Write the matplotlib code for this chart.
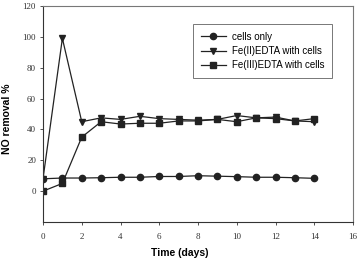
import matplotlib
matplotlib.use("Agg")
import matplotlib.pyplot as plt

days = [0, 1, 2, 3, 4, 5, 6, 7, 8, 9, 10, 11, 12, 13, 14]
cells_only = [8, 8.5, 8.5, 8.7, 9, 9, 9.5, 9.5, 10, 9.7, 9.4, 9, 9, 8.7, 8.3]
fe2_cells = [8, 99, 45, 47.5, 46.5, 48.5, 47, 46.5, 46, 46.5, 49, 47.5, 48, 45.5, 45]
fe3_cells = [0, 5, 35, 45, 43.5, 44, 44, 45.5, 45.5, 46.5, 45, 47.5, 47, 45.5, 47]

labels = ["cells only", "Fe(II)EDTA with cells", "Fe(III)EDTA with cells"]
xticks = [0, 2, 4, 6, 8, 10, 12, 14, 16]
yticks = [0, 20, 40, 60, 80, 100, 120]

fig = plt.figure(figsize=(3.62, 2.59), dpi=100)
ax = fig.add_axes([43/362, 1-222/259, 310/362, 216/259])

lc = "#222222"
ax.plot(days, cells_only, marker="o", color=lc, lw=0.9, ms=4.5, label=labels[0])
ax.plot(days, fe2_cells, marker="v", color=lc, lw=0.9, ms=4.5, label=labels[1])
ax.plot(days, fe3_cells, marker="s", color=lc, lw=0.9, ms=4.0, label=labels[2])

ax.set_xlim(0, 16)
ax.set_ylim(-20, 120)
ax.set_xticks(xticks)
ax.set_yticks(yticks)
ax.tick_params(direction="out", length=2, width=0.6, colors="#333333", labelsize=6.5)
ax.tick_params(axis="x", pad=6)
ax.tick_params(axis="y", pad=3)
for lab in ax.get_xticklabels() + ax.get_yticklabels():
    lab.set_family("Liberation Serif")
for s in ["left", "bottom"]:
    ax.spines[s].set_color("#333333")
    ax.spines[s].set_linewidth(0.8)
for s in ["top", "right"]:
    ax.spines[s].set_color("#777777")
    ax.spines[s].set_linewidth(0.8)

ax.set_ylabel("NO removal %", family="Liberation Sans", fontweight="bold", fontsize=7.5)
ax.yaxis.set_label_coords(-0.10, 0.48)
ax.set_xlabel("Time (days)", family="Liberation Sans", fontweight="bold", fontsize=7.5)
ax.xaxis.set_label_coords(0.44, -0.12)

leg = ax.legend(loc="upper right", bbox_to_anchor=(337/362, 1-19/259), bbox_transform=fig.transFigure,
                prop={"family": "Liberation Sans", "size": 7}, frameon=True, fancybox=False,
                edgecolor="#555555", handlelength=2.6, labelspacing=0.45, borderpad=0.8,
                handletextpad=0.6)
leg.get_frame().set_linewidth(0.7)

fig.savefig("out.png", dpi=100)
